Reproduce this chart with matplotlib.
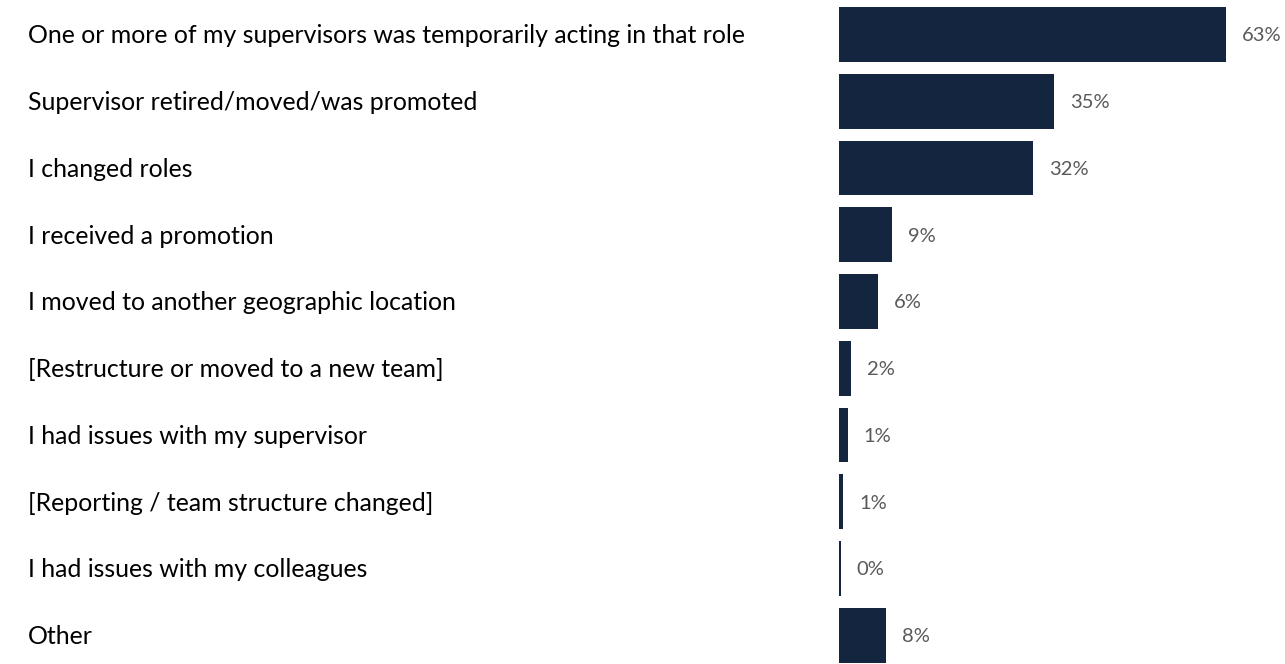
import matplotlib
matplotlib.use("Agg")
import matplotlib.pyplot as plt
from matplotlib.transforms import blended_transform_factory

categories = [
    "One or more of my supervisors was temporarily acting in that role",
    "Supervisor retired/moved/was promoted",
    "I changed roles",
    "I received a promotion",
    "I moved to another geographic location",
    "[Restructure or moved to a new team]",
    "I had issues with my supervisor",
    "[Reporting / team structure changed]",
    "I had issues with my colleagues",
    "Other",
]
values = [63.0, 35.0, 31.6, 8.6, 6.4, 1.9, 1.4, 0.7, 0.3, 7.6]

BAR_COLOR = "#13253f"
LABEL_COLOR = "#595959"
FONT = "Lato"

fig = plt.figure(figsize=(12.85, 6.64), dpi=100)
ax = fig.add_axes([839 / 1285, 0, 446 / 1285, 1])

y = list(range(len(categories)))
ax.barh(y, values, height=0.82, color=BAR_COLOR, left=0)
ax.set_xlim(0, 72.6)
ax.set_ylim(9.43, -0.517)
ax.axis("off")

for yi, v in zip(y, values):
    ax.annotate(f"{v:.0f}%", xy=(v, yi + 0.02), xytext=(11.5, 0), textcoords="offset points",
                ha="left", va="center", fontsize=14.5, color=LABEL_COLOR, family=FONT)

trans = blended_transform_factory(fig.transFigure, ax.transData)
for yi, c in zip(y, categories):
    ax.text(28 / 1285, yi + 0.02, c, transform=trans, ha="left", va="center",
            fontsize=17.9, color="#000000", family=FONT, clip_on=False)

fig.savefig("out.png", dpi=100)
